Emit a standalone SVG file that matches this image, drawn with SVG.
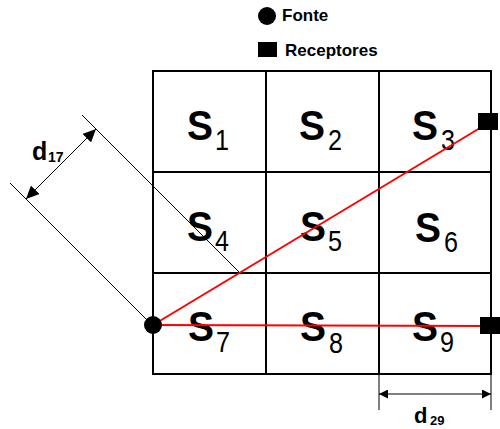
<svg xmlns="http://www.w3.org/2000/svg" width="500" height="429" viewBox="0 0 500 429">
<style>
.grid{fill:none;stroke:#000;stroke-width:2}
.dim{fill:none;stroke:#000;stroke-width:1}
.ray{fill:none;stroke:#f00;stroke-width:2}
.s{font-family:"Liberation Sans",Arial,sans-serif;font-weight:bold;font-size:42px;fill:#000}
.sub{font-family:"Liberation Sans",Arial,sans-serif;font-size:30px;fill:#000}
.lbl{font-family:"Liberation Sans",Arial,sans-serif;font-weight:bold;fill:#000}
</style>
<defs>
<marker id="arrowL" viewBox="0 0 13 12" refX="13" refY="6" markerWidth="13" markerHeight="12" markerUnits="userSpaceOnUse" orient="auto-start-reverse">
<path d="M0,0 L13,6 L0,12 z" fill="#000"/>
</marker>
<marker id="arrowS" viewBox="0 0 9 9" refX="9" refY="4.5" markerWidth="9" markerHeight="9" markerUnits="userSpaceOnUse" orient="auto-start-reverse">
<path d="M0,0 L9,4.5 L0,9 z" fill="#000"/>
</marker>
</defs>
<rect width="500" height="429" fill="#fff"/>
<g id="grid">
<rect class="grid" x="153" y="71" width="338" height="303"/>
<line class="grid" x1="266" y1="71" x2="266" y2="374"/>
<line class="grid" x1="379" y1="71" x2="379" y2="374"/>
<line class="grid" x1="153" y1="172" x2="491" y2="172"/>
<line class="grid" x1="153" y1="273" x2="491" y2="273"/>
</g>
<g id="connectors">
<line class="dim" x1="82" y1="115" x2="240" y2="273"/>
<line class="dim" x1="10" y1="183" x2="152" y2="325"/>
<line class="dim" x1="96" y1="129" x2="26" y2="199" marker-start="url(#arrowL)" marker-end="url(#arrowL)"/>
<line class="dim" x1="379" y1="374" x2="379" y2="410"/>
<line class="dim" x1="491" y1="374" x2="491" y2="410"/>
<line class="dim" x1="379" y1="394" x2="491" y2="394" marker-start="url(#arrowS)" marker-end="url(#arrowS)"/>
</g>
<g id="S1"><text class="s" x="187" y="140" textLength="26" lengthAdjust="spacingAndGlyphs">S</text><text class="sub" x="215" y="150" textLength="14" lengthAdjust="spacingAndGlyphs">1</text></g>
<g id="S2"><text class="s" x="299" y="140" textLength="26" lengthAdjust="spacingAndGlyphs">S</text><text class="sub" x="328" y="150" textLength="14" lengthAdjust="spacingAndGlyphs">2</text></g>
<g id="S3"><text class="s" x="412" y="140" textLength="26" lengthAdjust="spacingAndGlyphs">S</text><text class="sub" x="441" y="150" textLength="14" lengthAdjust="spacingAndGlyphs">3</text></g>
<g id="S4"><text class="s" x="187" y="241" textLength="26" lengthAdjust="spacingAndGlyphs">S</text><text class="sub" x="215" y="251" textLength="14" lengthAdjust="spacingAndGlyphs">4</text></g>
<g id="S5"><text class="s" x="300" y="241" textLength="26" lengthAdjust="spacingAndGlyphs">S</text><text class="sub" x="328" y="251" textLength="14" lengthAdjust="spacingAndGlyphs">5</text></g>
<g id="S6"><text class="s" x="415" y="242" textLength="26" lengthAdjust="spacingAndGlyphs">S</text><text class="sub" x="444" y="252" textLength="14" lengthAdjust="spacingAndGlyphs">6</text></g>
<g id="S7"><text class="s" x="188" y="341" textLength="26" lengthAdjust="spacingAndGlyphs">S</text><text class="sub" x="216" y="352" textLength="14" lengthAdjust="spacingAndGlyphs">7</text></g>
<g id="S8"><text class="s" x="300" y="341" textLength="26" lengthAdjust="spacingAndGlyphs">S</text><text class="sub" x="329" y="353" textLength="14" lengthAdjust="spacingAndGlyphs">8</text></g>
<g id="S9"><text class="s" x="412" y="341" textLength="26" lengthAdjust="spacingAndGlyphs">S</text><text class="sub" x="440" y="352" textLength="14" lengthAdjust="spacingAndGlyphs">9</text></g>
<g id="rays">
<line class="ray" x1="153" y1="325" x2="490" y2="122"/>
<line class="ray" x1="153" y1="325" x2="490" y2="326"/>
</g>
<g id="source"><circle cx="153" cy="325" r="9" fill="#000"/></g>
<g id="receptor3"><rect x="478" y="113" width="20" height="17" fill="#000"/></g>
<g id="receptor9"><rect x="480" y="317" width="20" height="17" fill="#000"/></g>
<g id="d17"><text class="lbl" x="32" y="160" font-size="25">d</text><text class="lbl" x="48" y="162" font-size="14">17</text></g>
<g id="d29"><text class="lbl" x="414" y="423" font-size="22">d</text><text class="lbl" x="430" y="425" font-size="13">29</text></g>
<g id="legend">
<circle cx="267" cy="16" r="9" fill="#000"/>
<text class="lbl" x="282" y="21" font-size="17">Fonte</text>
<rect x="258" y="42" width="19" height="15" fill="#000"/>
<text class="lbl" x="285" y="56" font-size="17">Receptores</text>
</g>
</svg>
